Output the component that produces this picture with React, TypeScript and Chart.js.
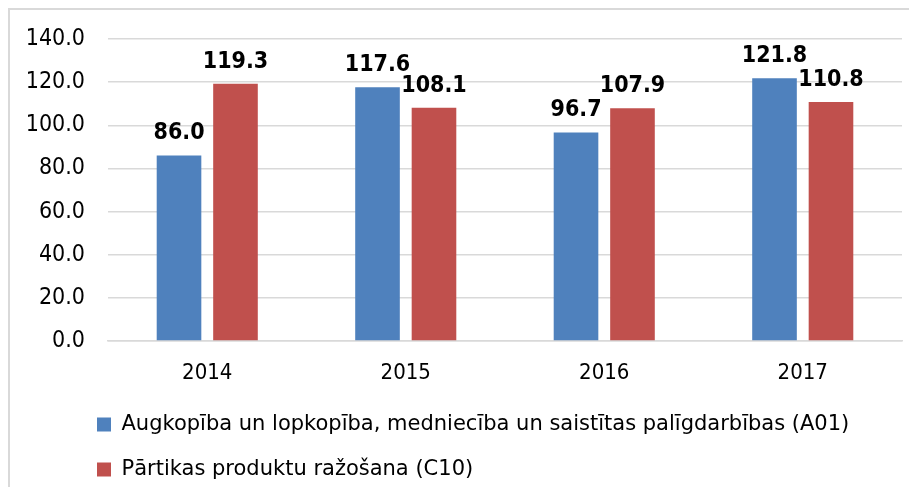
import React, { useEffect, useRef } from "react";
import { Chart, registerables } from "chart.js";

Chart.register(...registerables);

const categories = ["2014", "2015", "2016", "2017"];
const seriesNames = [
  "Augkopība un lopkopība, medniecība un saistītas palīgdarbības (A01)",
  "Pārtikas produktu ražošana (C10)",
];
const seriesA01 = [86.0, 117.6, 96.7, 121.8];
const seriesC10 = [119.3, 108.1, 107.9, 110.8];
const yTicks = { min: 0, max: 140, step: 20 };

const FONT_C = "'DejaVu Sans Condensed', 'DejaVu Sans', sans-serif";
const FONT_N = "'DejaVu Sans', sans-serif";
const CANVAS_H = 477;
const CANVAS_W = 899;
const LEGEND_BOX_X = 87;
const LEGEND_H = 97;
const X_AXIS_H = 49;
const Y_AXIS_W = 81;

const dataLabels = {
  id: "dataLabels",
  afterDatasetsDraw(chart: any) {
    const ctx = chart.ctx;
    ctx.save();
    ctx.font = `bold 23px ${FONT_C}`;
    ctx.fillStyle = "#000";
    ctx.textAlign = "center";
    ctx.textBaseline = "alphabetic";
    chart.data.datasets.forEach((ds: any, i: number) => {
      const meta = chart.getDatasetMeta(i);
      meta.data.forEach((el: any, j: number) => {
        ctx.fillText(Number(ds.data[j]).toFixed(1), el.x, el.y - 16);
      });
    });
    ctx.restore();
  },
};

const legendShift = {
  id: "legendShift",
  afterLayout(chart: any) {
    const lg = chart.legend;
    if (!lg) return;
    const pad = lg.options.labels.padding;
    const dx = LEGEND_BOX_X - (lg.left + pad);
    lg.left += dx;
    lg.right += dx;
  },
};

export default function App() {
  const ref = useRef<HTMLCanvasElement>(null);
  useEffect(() => {
    if (!ref.current) return;
    const chart = new Chart(ref.current, {
      type: "bar",
      data: {
        labels: categories,
        datasets: [
          { label: seriesNames[0], data: seriesA01, backgroundColor: "#4f81bd", borderWidth: 0 },
          { label: seriesNames[1], data: seriesC10, backgroundColor: "#c0504d", borderWidth: 0 },
        ],
      },
      options: {
        animation: false,
        responsive: true,
        maintainAspectRatio: false,
        layout: { padding: { top: 29, left: 17, right: 7, bottom: 0 } },
        datasets: { bar: { categoryPercentage: 0.569, barPercentage: 0.79 } },
        scales: {
          x: {
            grid: { display: false, drawTicks: false },
            border: { display: true, color: "#d9d9d9", width: 1.5 },
            ticks: { color: "#000", padding: 18.8, font: { family: FONT_C, size: 22, lineHeight: 1.2 } },
            afterFit: (s: any) => {
              s.height = X_AXIS_H;
              s.paddingLeft = 0;
              s.paddingRight = 0;
            },
          },
          y: {
            min: yTicks.min,
            max: yTicks.max,
            grid: { color: "#d9d9d9", lineWidth: 1.5, drawTicks: false },
            border: { display: false },
            ticks: {
              stepSize: yTicks.step,
              color: "#000",
              padding: 23,
              font: { family: FONT_C, size: 23 },
              callback: (v: any) => Number(v).toFixed(1),
            },
            afterFit: (s: any) => {
              s.width = Y_AXIS_W;
              s.paddingTop = 0;
              s.paddingBottom = 0;
            },
          },
        },
        plugins: {
          tooltip: { enabled: false },
          legend: {
            position: "bottom",
            align: "start",
            maxHeight: LEGEND_H,
            labels: {
              boxWidth: 14,
              boxHeight: 14,
              padding: 24,
              color: "#000",
              font: { family: FONT_N, size: 21 },
            },
          },
        },
      },
      plugins: [dataLabels, legendShift],
    });
    return () => chart.destroy();
  }, []);
  return (
    <div style={{ overflow: "hidden", height: CANVAS_H + 2 }}>
      <div
        style={{
          borderLeft: "2px solid #d9d9d9",
          borderTop: "2px solid #d9d9d9",
          width: CANVAS_W + 60,
          height: CANVAS_H,
        }}
      >
        <div style={{ position: "relative", width: CANVAS_W, height: CANVAS_H }}>
          <canvas ref={ref} />
        </div>
      </div>
    </div>
  );
}
